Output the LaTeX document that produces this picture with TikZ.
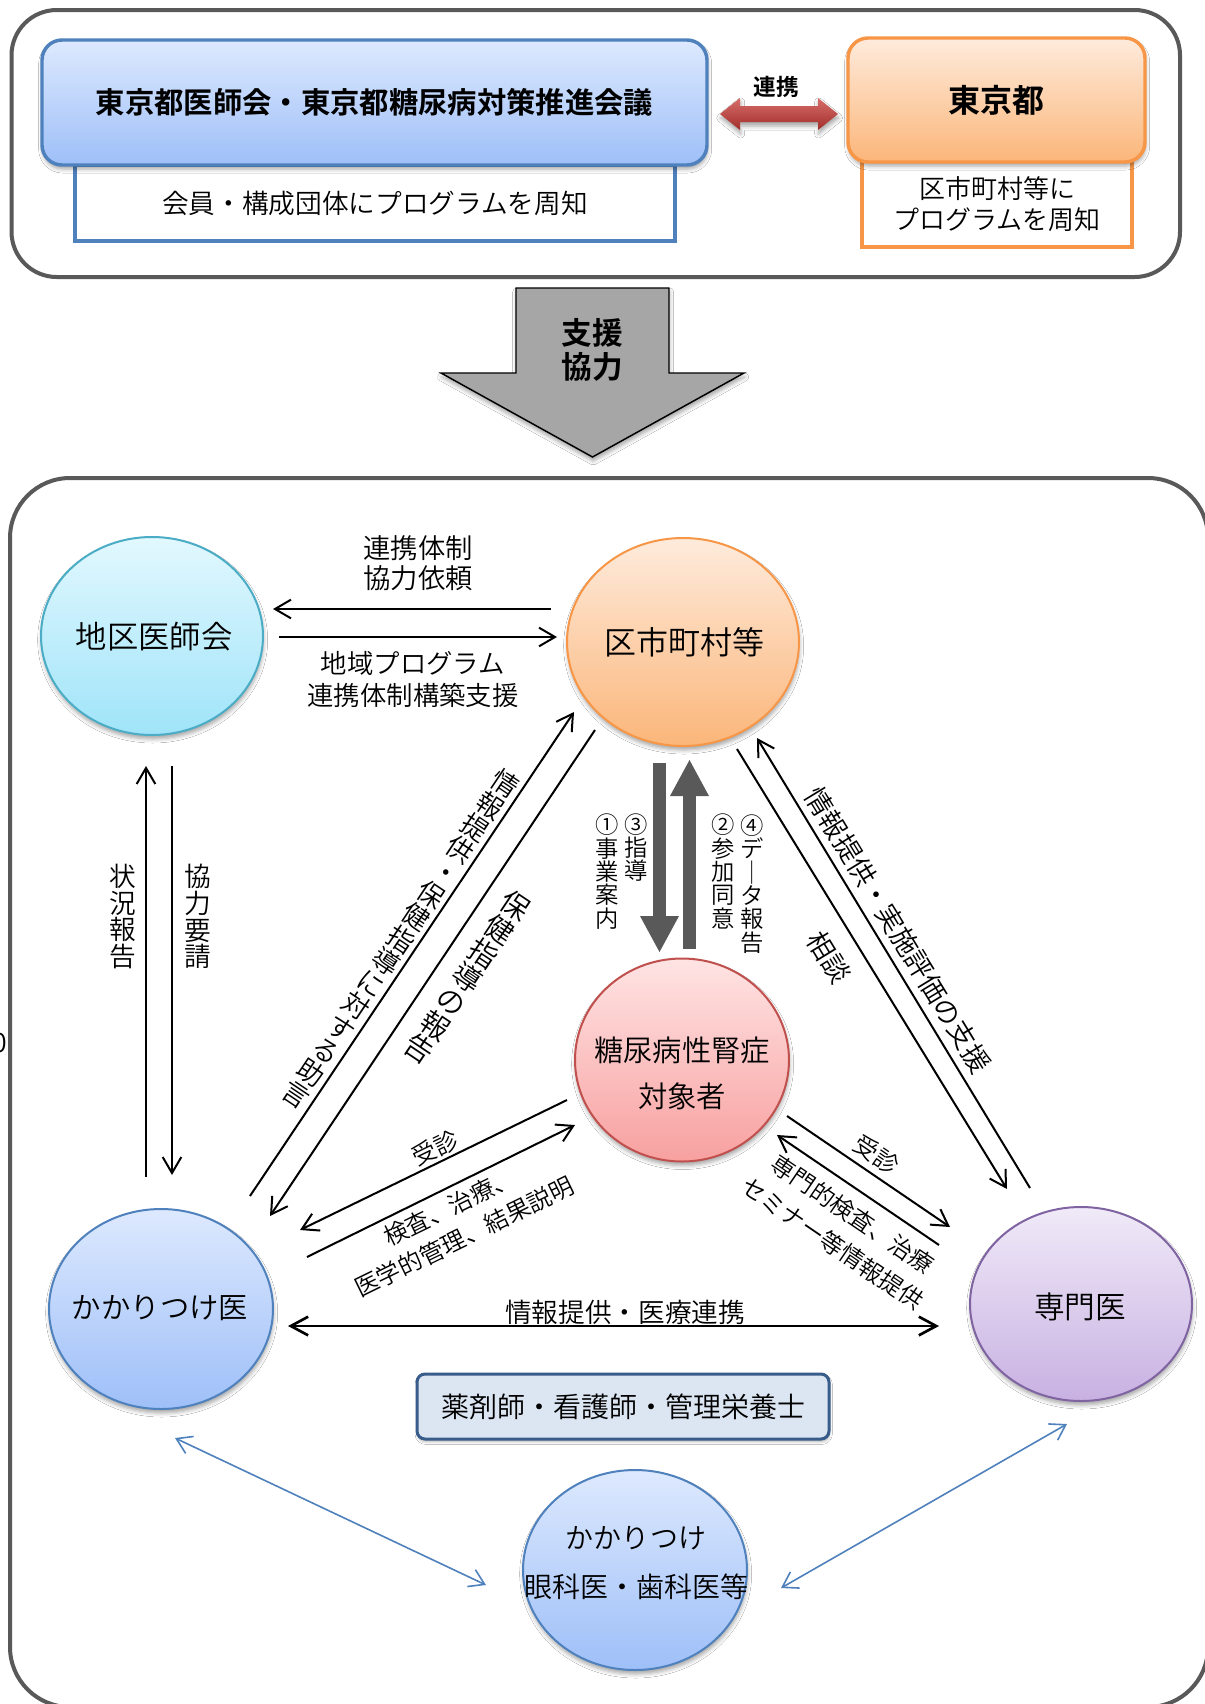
\documentclass[tikz,border=0pt]{standalone}
\usepackage{fontspec}
\setmainfont{Noto Sans CJK JP}[UprightFont={* DemiLight}, BoldFont={* Bold}]
\usetikzlibrary{arrows.meta,shapes.geometric,shadows.blur}
\definecolor{framegray}{HTML}{595959}
\definecolor{bluebd}{HTML}{4F81BD}
\definecolor{bluetop}{HTML}{DDE9FE}
\definecolor{bluebot}{HTML}{9EBFF8}
\definecolor{orbd}{HTML}{F79646}
\definecolor{ortop}{HTML}{FEEBDC}
\definecolor{orbot}{HTML}{FBB67A}
\definecolor{cyanbd}{HTML}{4BACC6}
\definecolor{cyantop}{HTML}{E2F8FE}
\definecolor{cyanbot}{HTML}{A0E4F9}
\definecolor{redbd}{HTML}{C0504D}
\definecolor{pinktop}{HTML}{FFE4E4}
\definecolor{pinkbot}{HTML}{F8A0A0}
\definecolor{purbd}{HTML}{8064A2}
\definecolor{purtop}{HTML}{F0EAF8}
\definecolor{purbot}{HTML}{C8B1E2}
\definecolor{pharmfill}{HTML}{DCE6F2}
\definecolor{pharmbd}{HTML}{385D8A}
\definecolor{darkarrow}{HTML}{595959}
\definecolor{bigarrow}{HTML}{A6A6A6}
\definecolor{redtop}{HTML}{D66D6A}
\definecolor{redbot}{HTML}{A22D2A}
\newcommand\myfs[2]{\fontsize{#1pt}{#2pt}\selectfont\lineskiplimit=-50pt\relax}
\tikzset{
  frame/.style={draw=framegray, line width=3pt},
  softshadow/.style={blur shadow={shadow xshift=0.5pt, shadow yshift=-3pt, shadow blur radius=3pt, shadow opacity=35}},
  topbox/.style={rectangle, rounded corners=15pt, line width=2.6pt, inner sep=0pt, softshadow},
  tbox/.style={rectangle, line width=3pt, fill=white, inner sep=0pt, align=center},
  circ/.style={ellipse, line width=1.5pt, inner sep=0pt, softshadow},
  lab/.style={inner sep=0pt, align=center, text=black},
  conn/.style={draw=black, line width=1.5pt, -{Straight Barb[length=12pt,width=14pt]}},
  hconn/.style={draw=black, line width=2pt, {Straight Barb[length=13pt,width=14pt]}-{Straight Barb[length=13pt,width=14pt]}},
  bconn/.style={draw=bluebd, line width=1.2pt, {Straight Barb[length=11pt,width=14pt]}-{Straight Barb[length=11pt,width=14pt]}},
  fat/.style={draw=darkarrow, line width=9.75pt, -{Triangle[length=27pt,width=29.25pt,line width=0pt]}}
}
\begin{document}
\begin{tikzpicture}[x=0.75pt,y=-0.75pt]
\useasboundingbox (0,0) rectangle (1205,1704);
\clip (0,0) rectangle (1205,1704);
\fill[white] (0,0) rectangle (1205,1704);

% frames
\draw[frame, rounded corners=34pt] (11.5,10) rectangle (1180,277);
\draw[frame, rounded corners=45pt] (10,478) rectangle (1208,1707);

% top section
\node[tbox, draw=bluebd, minimum width=450pt, minimum height=57pt, font=\myfs{20}{20}] (medT) at (375,203) {会員・構成団体にプログラムを周知};
\node[topbox, draw=bluebd, top color=bluetop, bottom color=bluebot, minimum width=498.75pt, minimum height=93.75pt, font=\myfs{22}{22}\bfseries] (med) at (374.5,102.5) {東京都医師会・東京都糖尿病対策推進会議};
\node[tbox, draw=orbd, minimum width=202.5pt, minimum height=64.5pt, font=\myfs{19.5}{23.25}] (tokyoT) at (997,204) {区市町村等に\\プログラムを周知};
\node[topbox, draw=orbd, top color=ortop, bottom color=orbot, minimum width=222.75pt, minimum height=93pt, font=\myfs{24}{24}\bfseries] (tokyo) at (996.5,100) {東京都};

% red double arrow
\shade[top color=redtop, bottom color=redbot, softshadow] (720,114) -- (740,98) -- (740,106) -- (818,106) -- (818,98) -- (838,114) -- (818,130) -- (818,122) -- (740,122) -- (740,130) -- cycle;
\node[lab, font=\myfs{17}{17}\bfseries] (renkei) at (776,87) {連携};

% big gray arrow
\draw[fill=bigarrow, draw=black, line width=1.1pt, softshadow] (516,288) -- (669,288) -- (669,373) -- (744,373) -- (592.5,457) -- (441,373) -- (516,373) -- cycle;
\node[lab, font=\myfs{23}{25.5}\bfseries] (shien) at (592.5,350) {支援\\協力};

% circles
\node[circ, draw=cyanbd, top color=cyantop, bottom color=cyanbot, minimum width=166.5pt, minimum height=148.5pt] (chiku) at (152,636) {};
\node[circ, draw=orbd, top color=ortop, bottom color=orbot, minimum width=174pt, minimum height=156pt] (kushi) at (683,642) {};
\node[circ, draw=redbd, top color=pinktop, bottom color=pinkbot, minimum width=160.5pt, minimum height=152.25pt] (tonyo) at (682,1060) {};
\node[circ, draw=bluebd, top color=bluetop, bottom color=bluebot, minimum width=168pt, minimum height=150pt] (kakari) at (161,1309) {};
\node[circ, draw=purbd, top color=purtop, bottom color=purbot, minimum width=166.5pt, minimum height=145.5pt] (senmon) at (1081,1304) {};
\node[circ, draw=bluebd, top color=bluetop, bottom color=bluebot, minimum width=168pt, minimum height=150pt] (ganka) at (635,1570) {};

\node[lab, font=\myfs{23.5}{23.5}] (chikuT) at (154,637) {地区医師会};
\node[lab, font=\myfs{24}{24}] (kushiT) at (684,642) {区市町村等};
\node[lab, font=\myfs{22}{35}] (tonyoT) at (682,1073.5) {糖尿病性腎症\\対象者};
\node[lab, font=\myfs{22}{22}] (kakariT) at (160,1308) {かかりつけ医};
\node[lab, font=\myfs{23}{23}] (senmonT) at (1080,1307) {専門医};
\node[lab, font=\myfs{21}{36.75}] (gankaT) at (636,1563.5) {かかりつけ\\眼科医・歯科医等};

% pharmacist box
\node[rectangle, rounded corners=6pt, draw=pharmbd, line width=2.25pt, fill=pharmfill, minimum width=309pt, minimum height=48.75pt, inner sep=0pt, font=\myfs{21}{21}, blur shadow={shadow xshift=0.5pt, shadow yshift=-2pt, shadow blur radius=2pt, shadow opacity=30}] (pharm) at (623,1406.5) {薬剤師・看護師・管理栄養士};

% stray glyph at left edge
\node[lab, font=\myfs{20}{20}] (stray) at (0,1043) {0};

% connectors chiku <-> kushi
\coordinate (a1s) at (551,609); \coordinate (a1e) at (273,609);
\coordinate (a2s) at (279,637); \coordinate (a2e) at (557,637);
\draw[conn] (a1s) -- (a1e);
\draw[conn] (a2s) -- (a2e);
\node[lab, font=\myfs{20.5}{22.5}] (l1) at (418,563) {連携体制\\協力依頼};
\node[lab, font=\myfs{19.8}{24}] (l2) at (413,679) {地域プログラム\\連携体制構築支援};

% chiku <-> kakari
\coordinate (v1s) at (146,1177); \coordinate (v1e) at (146,766);
\coordinate (v2s) at (172,766); \coordinate (v2e) at (172,1175);
\draw[conn] (v1s) -- (v1e);
\draw[conn] (v2s) -- (v2e);
\node[lab, font=\myfs{20}{20}] (l3) at (123,916.5) {状\\況\\報\\告};
\node[lab, font=\myfs{20}{20}] (l4) at (198,916.5) {協\\力\\要\\請};

% kakari <-> kushi
\coordinate (d1s) at (250,1196); \coordinate (d1e) at (574,712);
\coordinate (d2s) at (595,730); \coordinate (d2e) at (270,1216);
\draw[conn] (d1s) -- (d1e);
\draw[conn] (d2s) -- (d2e);
\node[lab, rotate=-33.8, font=\myfs{20}{20.1}] (l5) at (401,939) {情\\報\\提\\供\\・\\保\\健\\指\\導\\に\\対\\す\\る\\助\\言};
\node[lab, rotate=-33.8, font=\myfs{21.5}{21.5}] (l6) at (467.5,977.5) {保\\健\\指\\導\\の\\報\\告};

% kushi <-> tonyo
\coordinate (g1s) at (659.5,763); \coordinate (g1e) at (659.5,952);
\coordinate (g2s) at (689.5,949); \coordinate (g2e) at (689.5,760);
\draw[fat] (g1s) -- (g1e);
\draw[fat] (g2s) -- (g2e);
\node[lab, font=\myfs{17.5}{17.55}] (m1) at (607,871.5) {①\\事\\業\\案\\内};
\node[lab, font=\myfs{17.5}{17.55}] (m3) at (636,847.5) {③\\指\\導};
\node[lab, font=\myfs{17.5}{17.55}] (m2) at (723,871.5) {②\\参\\加\\同\\意};
\node[lab, font=\myfs{17.5}{17.55}] (m4) at (752,884) {④\\デ\\｜\\タ\\報\\告};

% kushi <-> senmon
\coordinate (r1s) at (737,749); \coordinate (r1e) at (1007,1189);
\coordinate (r2s) at (1030,1188); \coordinate (r2e) at (757,738);
\draw[conn] (r1s) -- (r1e);
\draw[conn] (r2s) -- (r2e);
\node[lab, rotate=-58.6, font=\myfs{20.5}{20.5}] (l7) at (898,930) {情報提供・実施評価の支援};
\node[lab, rotate=-58.6, font=\myfs{20.5}{20.5}] (l8) at (829,957) {相談};

% tonyo <-> senmon
\coordinate (c1s) at (787,1116); \coordinate (c1e) at (950,1227);
\coordinate (c2s) at (939,1245); \coordinate (c2e) at (777,1135);
\draw[conn] (c1s) -- (c1e);
\draw[conn] (c2s) -- (c2e);
\node[lab, rotate=-34.3, font=\myfs{18}{18}] (l9) at (876.5,1154.5) {受診};
\node[lab, rotate=-34.3, font=\myfs{17.8}{26.6}] (l10) at (842.5,1229) {専門的検査、治療\\セミナー等情報提供};

% tonyo <-> kakari
\coordinate (e1s) at (567,1100); \coordinate (e1e) at (300,1230);
\coordinate (e2s) at (307,1257); \coordinate (e2e) at (575,1125);
\draw[conn] (e1s) -- (e1e);
\draw[conn] (e2s) -- (e2e);
\node[lab, rotate=26, font=\myfs{18}{18}] (l11) at (435,1148) {受診};
\node[lab, rotate=26, font=\myfs{18}{24.75}] (l12) at (457,1222) {検査、治療、\\医学的管理、結果説明};

% kakari <-> senmon
\coordinate (hs) at (288,1326); \coordinate (he) at (939,1326);
\draw[hconn] (hs) -- (he);
\node[lab, anchor=south, font=\myfs{20}{20}] (l13) at (625,1325) {情報提供・医療連携};

% ganka links
\coordinate (b1s) at (175,1438); \coordinate (b1e) at (486,1585);
\coordinate (b2s) at (1067,1424); \coordinate (b2e) at (781,1588);
\draw[bconn] (b1s) -- (b1e);
\draw[bconn] (b2s) -- (b2e);
\end{tikzpicture}
\end{document}
